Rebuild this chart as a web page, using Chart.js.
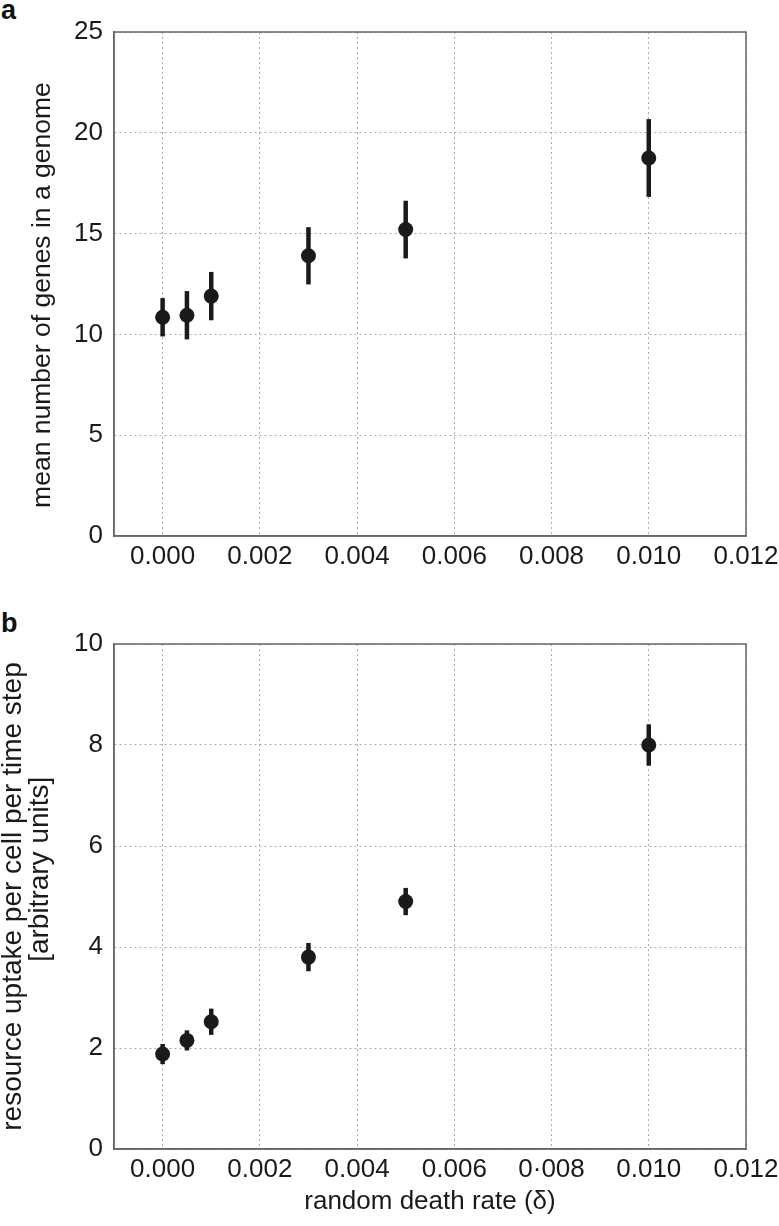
<!DOCTYPE html>
<html lang="en">
<head>
  <meta charset="UTF-8">
  <title>Genes per genome and resource uptake vs random death rate</title>
  <script src="https://cdn.jsdelivr.net/npm/chart.js"></script>
  <style>
    body {
      margin: 0;
      background: #fff;
      font-family: 'Liberation Sans', Arial, sans-serif;
    }
    .page {
      position: relative;
      width: 779px;
      height: 1226px;
      overflow: hidden;
    }
    canvas {
      position: absolute;
      left: 0;
    }
    #chartA { top: 0; }
    #chartB { top: 600px; }
    .tag {
      position: absolute;
      left: 1px;
      font-size: 27px;
      font-weight: bold;
      line-height: 27px;
      color: #111;
    }
  </style>
</head>
<body>
  <div class="page">
    <div class="tag" style="top:-3px">a</div>
    <canvas id="chartA" width="779" height="600"></canvas>
    <div class="tag" style="top:610px">b</div>
    <canvas id="chartB" width="779" height="626"></canvas>
  </div>

  <script>
    // data
    const deathRates = [0.0, 0.0005, 0.001, 0.003, 0.005, 0.010];
    const geneMeans = [10.85, 10.95, 11.9, 13.9, 15.2, 18.75];
    const geneErr = [0.95, 1.2, 1.2, 1.42, 1.43, 1.93];
    const uptakeMeans = [1.88, 2.15, 2.52, 3.8, 4.9, 8.0];
    const uptakeErr = [0.2, 0.2, 0.26, 0.28, 0.27, 0.41];

    const xTickValues = [0, 0.002, 0.004, 0.006, 0.008, 0.010, 0.012];
    const xLabelsA = ['0.000', '0.002', '0.004', '0.006', '0.008', '0.010', '0.012'];
    const xLabelsB = ['0.000', '0.002', '0.004', '0.006', '0\u00b7008', '0.010', '0.012'];

    const FONT = "'Liberation Sans', Arial, sans-serif";
    const INK = '#1a1a1a';
    const NB = '\u00a0'; // used to nudge the y titles off-centre like the original

    // error bars under the markers + closed frame round the plot
    const errorBarsAndFrame = {
      id: 'errorBarsAndFrame',
      beforeDatasetsDraw(chart, args, opts) {
        const { ctx } = chart;
        const xs = chart.scales.x, ys = chart.scales.y;
        ctx.save();
        ctx.strokeStyle = INK;
        ctx.lineWidth = 4.5;
        deathRates.forEach((r, i) => {
          const px = xs.getPixelForValue(r);
          ctx.beginPath();
          ctx.moveTo(px, ys.getPixelForValue(opts.means[i] - opts.errs[i]));
          ctx.lineTo(px, ys.getPixelForValue(opts.means[i] + opts.errs[i]));
          ctx.stroke();
        });
        ctx.restore();
      },
      afterDraw(chart) {
        const { ctx, chartArea: a } = chart;
        ctx.save();
        ctx.strokeStyle = '#666';
        ctx.lineWidth = 1.5;
        ctx.strokeRect(a.left, a.top, a.right - a.left, a.bottom - a.top);
        ctx.restore();
      }
    };

    function makePanel(id, means, errs, cfg) {
      const ctx = document.getElementById(id).getContext('2d');
      return new Chart(ctx, {
        type: 'scatter',
        data: {
          datasets: [{
            data: deathRates.map((r, i) => ({ x: r, y: means[i] })),
            backgroundColor: INK,
            borderWidth: 0,
            pointRadius: 7.5,
            pointHoverRadius: 7.5
          }]
        },
        options: {
          responsive: false,
          animation: false,
          layout: { padding: { top: cfg.top, right: 33, left: 0, bottom: 0 } },
          plugins: {
            legend: { display: false },
            tooltip: { enabled: false },
            errorBarsAndFrame: { means: means, errs: errs }
          },
          scales: {
            x: {
              type: 'linear',
              min: -0.001,
              max: 0.012,
              afterBuildTicks: s => { s.ticks = xTickValues.map(v => ({ value: v })); },
              afterFit: s => {
                s.height = cfg.xHeight;
                s.paddingLeft = 0;
                s.paddingRight = 0;
              },
              ticks: {
                callback: (v, i) => cfg.xLabels[i],
                color: INK,
                padding: 5,
                maxRotation: 0,
                font: { family: FONT, size: 26 }
              },
              grid: { color: '#aaa', lineWidth: 1, drawTicks: false },
              border: { display: true, color: '#666', width: 1.5, dash: [2, 3] },
              title: {
                display: !!cfg.xTitle,
                text: cfg.xTitle,
                color: INK,
                padding: { top: 0, bottom: 11 },
                font: { family: FONT, size: 26, lineHeight: 1.05 }
              }
            },
            y: {
              min: 0,
              max: cfg.yMax,
              afterFit: s => {
                s.width = 114;
                s.paddingTop = 0;
                s.paddingBottom = 0;
              },
              ticks: {
                stepSize: cfg.yStep,
                color: INK,
                padding: 11,
                font: { family: FONT, size: 26 }
              },
              grid: { color: '#aaa', lineWidth: 1, drawTicks: false },
              border: { display: true, color: '#666', width: 1.5, dash: [2, 3] },
              title: {
                display: true,
                text: cfg.yTitle,
                color: INK,
                padding: { top: cfg.yTitlePad, bottom: 0 },
                font: { family: FONT, size: cfg.yTitleSize, lineHeight: cfg.yTitleLine }
              }
            }
          }
        },
        plugins: [errorBarsAndFrame]
      });
    }

    makePanel('chartA', geneMeans, geneErr, {
      top: 32, xHeight: 64, yMax: 25, yStep: 5,
      xLabels: xLabelsA, xTitle: '',
      yTitle: 'mean number of genes in a genome' + NB.repeat(3),
      yTitleSize: 26.5, yTitleLine: 1.05, yTitlePad: 29
    });

    makePanel('chartB', uptakeMeans, uptakeErr, {
      top: 44, xHeight: 77, yMax: 10, yStep: 2,
      xLabels: xLabelsB, xTitle: 'random death rate (\u03b4)',
      yTitle: ['resource uptake per cell per time step', NB.repeat(7) + '[arbitrary units]'],
      yTitleSize: 28, yTitleLine: '27px', yTitlePad: 0
    });
  </script>
</body>
</html>
